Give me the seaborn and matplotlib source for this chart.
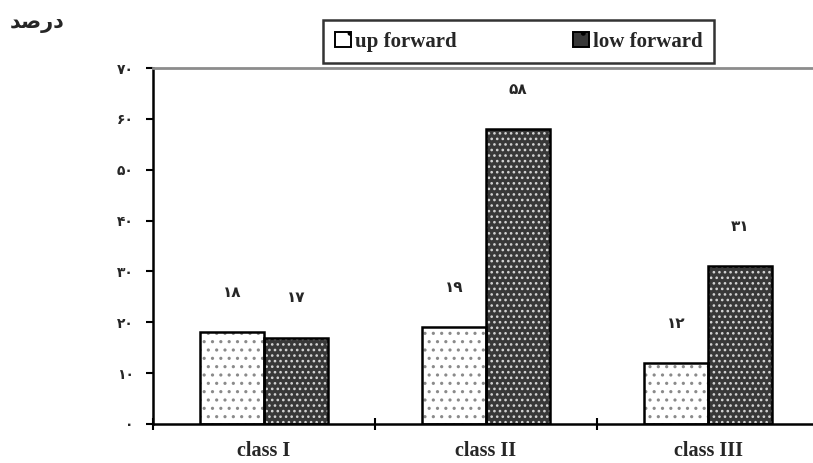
import pandas as pd
import matplotlib
matplotlib.use("Agg")
import matplotlib.pyplot as plt
import seaborn as sns
from matplotlib.patches import Patch

# ==========================================================
# data
# ==========================================================
classes = ["class I", "class II", "class III"]
series = ["up forward", "low forward"]
up_forward = [18, 19, 12]
low_forward = [17, 58, 31]
y_ticks = [0, 10, 20, 30, 40, 50, 60, 70]
# "درصد" in visual (left-to-right) order with joined presentation forms
y_title = "\uFEAA\uFEBB\uFEAD\uFEA9"

fa_digits = str.maketrans("0123456789", "۰۱۲۳۴۵۶۷۸۹")
def fa(n):
    return str(n).translate(fa_digits)

df = pd.DataFrame({
    "class": classes * 2,
    "series": [series[0]] * 3 + [series[1]] * 3,
    "value": up_forward + low_forward,
})

sns.set_theme(style="white")
plt.rcParams["font.family"] = ["DejaVu Sans"]
plt.rcParams["hatch.linewidth"] = 1.1

fig = plt.figure(figsize=(8.13, 4.63), dpi=100)
ax = fig.add_axes([153/813, 39/463, 660/813, 356/463])

face = {"up forward": "white", "low forward": "#383838"}
dots = {"up forward": "#8a8a8a", "low forward": "#d4d4d4"}
pattern = {"up forward": "..", "low forward": "..."}

# pattern layer
sns.barplot(data=df, x="class", y="value", hue="series", order=classes,
            hue_order=series, palette=face, width=0.58, ax=ax,
            linewidth=0, legend=False)
for i, p in enumerate(ax.patches):
    s = series[i // 3]
    p.set_hatch(pattern[s])
    p.set_edgecolor(dots[s])
# outline layer
sns.barplot(data=df, x="class", y="value", hue="series", order=classes,
            hue_order=series, fill=False, width=0.58, ax=ax,
            edgecolor="black", linewidth=1.8, legend=False)

# value labels above bars
for i, p in enumerate(ax.patches[:6]):
    v = df["value"].iloc[i]
    ax.annotate(fa(v), (p.get_x() + p.get_width() / 2, v),
                xytext=(0, 28.5), textcoords="offset points",
                ha="center", va="center", fontsize=11, fontweight="bold")

ax.set_ylim(0, 70)
ax.set_xlim(-0.5, 2.5 - 6/222)
ax.set_yticks(y_ticks)
ax.set_yticklabels([fa(t) for t in y_ticks], fontsize=10, fontweight="bold")
ax.set_xticks(range(3))
ax.set_xticklabels(classes, family="Liberation Serif", fontweight="bold", fontsize=14.5)
ax.set_xticks([-0.5, 0.5, 1.5], minor=True)
ax.tick_params(axis="x", which="major", length=0, pad=12)
ax.tick_params(axis="x", which="minor", length=8, width=1.5, direction="inout",
               color="black", bottom=True)
ax.tick_params(axis="y", length=5, width=1.5, direction="out", color="black",
               left=True, pad=9)
ax.set_xlabel("")
ax.set_ylabel("")

for side in ["left", "bottom"]:
    ax.spines[side].set_color("black")
    ax.spines[side].set_linewidth(1.8)
ax.spines["top"].set_color("#8c8c8c")
ax.spines["top"].set_linewidth(2)
ax.spines["right"].set_visible(False)

handles = [Patch(facecolor=face[s], edgecolor="black", hatch=".", linewidth=1.4)
           for s in series]
leg = fig.legend(handles, series, loc="center", bbox_to_anchor=(0.638, 0.910),
                 ncol=2, frameon=True, fancybox=False, handlelength=0.75,
                 handleheight=0.75, handletextpad=0.2, columnspacing=5.6,
                 borderpad=0.55, borderaxespad=0,
                 prop={"family": "Liberation Serif", "weight": "bold", "size": 15})
leg.get_frame().set_edgecolor("black")
leg.get_frame().set_linewidth(1.8)
leg.get_frame().set_boxstyle("square", pad=0)

fig.text(0.046, 0.950, y_title, ha="center", va="center",
         fontsize=15, fontweight="bold")

fig.savefig("out.png", dpi=100)
